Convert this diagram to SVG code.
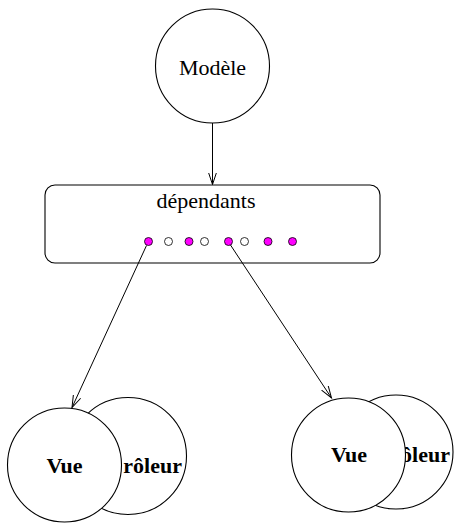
<svg xmlns="http://www.w3.org/2000/svg" width="455" height="523" viewBox="0 0 455 523">
<style>
.n{fill:#fff;stroke:#000;stroke-width:1.1}
.t{font-family:"Liberation Serif","Times New Roman",serif;font-size:22px;fill:#000}
.b{font-weight:bold}
.e{stroke:#000;stroke-width:1;fill:none}
.on{fill:#f0f;stroke:#000;stroke-width:0.8}
.off{fill:#fff;stroke:#000;stroke-width:0.8}
</style>
<defs>
<marker id="a" markerWidth="14" markerHeight="14" refX="12" refY="7" orient="auto" markerUnits="userSpaceOnUse">
<polyline points="0,3 12,7 0,11" fill="none" stroke="#000" stroke-width="1"/>
</marker>
</defs>
<g id="modele">
<circle class="n" cx="212.5" cy="66" r="57"/>
<text class="t" x="212.5" y="75" text-anchor="middle">Modèle</text>
</g>
<g id="dependants">
<rect class="n" x="45" y="185" width="335" height="78" rx="10"/>
<text class="t" x="206" y="208" text-anchor="middle">dépendants</text>
<circle class="on" cx="148.5" cy="241.5" r="4"/>
<circle class="off" cx="168.5" cy="241.5" r="4"/>
<circle class="on" cx="189" cy="241.5" r="4"/>
<circle class="off" cx="204.5" cy="241.5" r="4"/>
<circle class="on" cx="228.5" cy="241.5" r="4"/>
<circle class="off" cx="244.5" cy="241.5" r="4"/>
<circle class="on" cx="268" cy="241.5" r="4"/>
<circle class="on" cx="292.5" cy="241.5" r="4"/>
</g>
<g id="controleur1">
<circle class="n" cx="128" cy="456" r="58.5"/>
<text class="t b" x="182" y="473" text-anchor="end">rôleur</text>
</g>
<g id="vue1">
<circle class="n" cx="64.5" cy="465" r="57"/>
<text class="t b" x="64.5" y="473" text-anchor="middle">Vue</text>
</g>
<g id="controleur2">
<circle class="n" cx="396" cy="452" r="57"/>
<text class="t b" x="450" y="462" text-anchor="end">rôleur</text>
</g>
<g id="vue2">
<circle class="n" cx="348.5" cy="455" r="57"/>
<text class="t b" x="349" y="462" text-anchor="middle">Vue</text>
</g>
<g id="connectors">
<line class="e" x1="212.5" y1="123" x2="212.5" y2="184.5" marker-end="url(#a)"/>
<line class="e" x1="146.5" y1="245.5" x2="72" y2="407.5" marker-end="url(#a)"/>
<line class="e" x1="230.5" y1="245" x2="331.5" y2="398" marker-end="url(#a)"/>
</g>
</svg>
